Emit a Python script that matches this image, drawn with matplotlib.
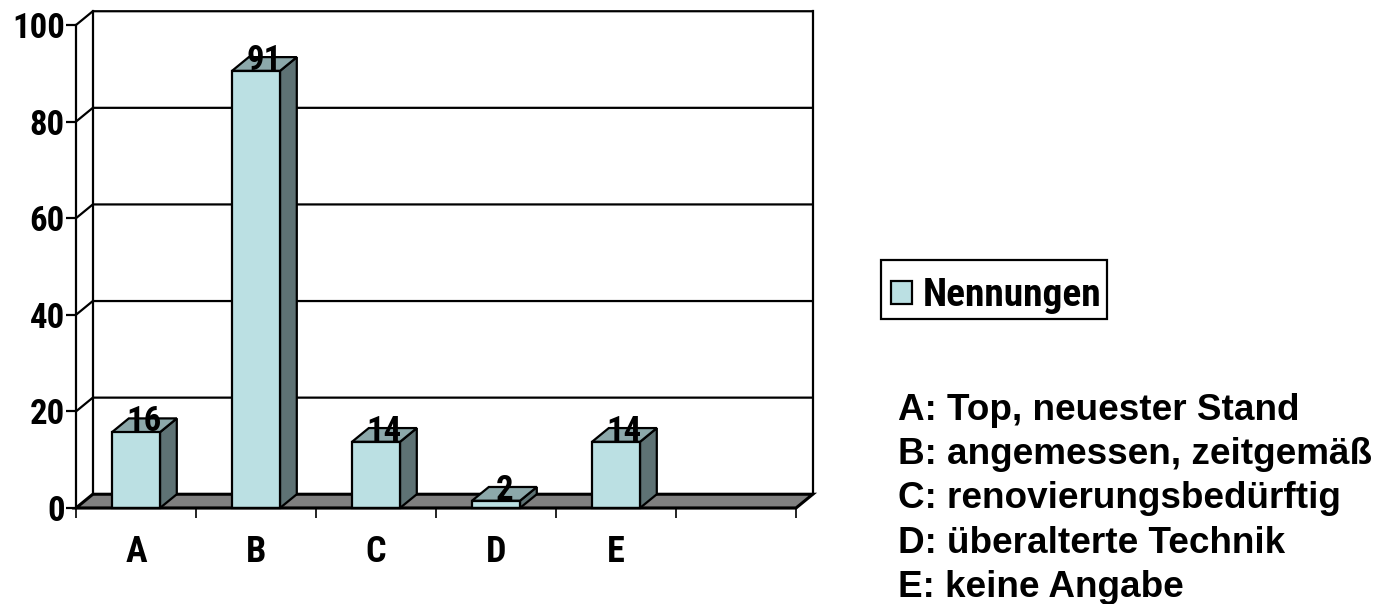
# plot.py - Nennungen bar chart with fake 3D look

import matplotlib
matplotlib.use("Agg")
import matplotlib.pyplot as plt
from matplotlib.patches import Rectangle

categories = ["A", "B", "C", "D", "E"]
bar_heights = [15.7, 90.5, 13.7, 1.5, 13.7]
bar_labels = ["16", "91", "14", "2", "14"]
y_ticks = [0, 20, 40, 60, 80, 100]
key_lines = [
    "A: Top, neuester Stand",
    "B: angemessen, zeitgemäß",
    "C: renovierungsbedürftig",
    "D: überalterte Technik",
    "E: keine Angabe",
]

FRONT = "#BBE0E3"
SIDE = "#5E7274"
TOP = "#8CA8AA"
FLOOR = "#808080"
W, H = 1385, 604
DX, DY = 0.14, 2.85  # depth of the fake 3D, data units
LW = 1.6
NARROW = ["Roboto Condensed", "Liberation Sans"]


def fig_box(x0, y0, x1, y1, color, zorder):
    # box given in picture pixels, top-left origin
    fig.add_artist(Rectangle((x0 / W, 1 - y1 / H), (x1 - x0) / W, (y1 - y0) / H, transform=fig.transFigure,
                             facecolor=color, edgecolor="black", lw=LW, zorder=zorder))


fig = plt.figure(figsize=(W / 100, H / 100), dpi=100)
ax = fig.add_axes([76 / W, 1 - 508 / H, 720 / W, 483 / H])
ax.set_xlim(0, 6)
ax.set_ylim(0, 100)

# floor and back wall
ax.fill([0, 6, 6 + DX, DX], [0, 0, DY, DY], facecolor=FLOOR, edgecolor="black", lw=2.2, zorder=1, clip_on=False)
for t in y_ticks[1:]:
    ax.plot([0, DX, 6 + DX], [t, t + DY, t + DY], color="black", lw=LW, zorder=1, clip_on=False)
ax.plot([DX, DX], [DY, 100 + DY], color="black", lw=LW, zorder=1, clip_on=False)
ax.plot([6 + DX, 6 + DX], [DY, 100 + DY], color="black", lw=LW, zorder=1, clip_on=False)

# bars
lefts = [i + 0.3 for i in range(len(categories))]
width = 0.4
ax.bar(lefts, bar_heights, width=width, align="edge", color=FRONT, edgecolor="black",
       lw=LW, zorder=3, clip_on=False)
for x, h, lab in zip(lefts, bar_heights, bar_labels):
    ax.fill([x + width, x + width + DX, x + width + DX, x + width], [0, DY, h + DY, h],
            facecolor=SIDE, edgecolor="black", lw=LW, zorder=2, clip_on=False)
    ax.fill([x, x + width, x + width + DX, x + DX], [h, h, h + DY, h + DY],
            facecolor=TOP, edgecolor="black", lw=LW, zorder=2, clip_on=False)
    ax.text(x + width / 2 + DX / 2, h + DY, lab, ha="center", va="center_baseline",
            family=NARROW, weight="bold", fontsize=25, zorder=4)

# axes
for side in ["top", "right"]:
    ax.spines[side].set_visible(False)
for side in ["left", "bottom"]:
    ax.spines[side].set_linewidth(LW)
    ax.spines[side].set_zorder(5)
ax.set_yticks(y_ticks)
ax.set_yticklabels([str(t) for t in y_ticks], family=NARROW, weight="bold", fontsize=25)
ax.tick_params(axis="y", length=7, width=LW, pad=1)
ax.set_xticks(range(7))
ax.set_xticklabels([])
ax.tick_params(axis="x", which="major", length=7, width=1.2)
ax.set_xticks([i + 0.5 for i in range(len(categories))], minor=True)
ax.set_xticklabels(categories, minor=True, family=NARROW, weight="bold", fontsize=26)
ax.tick_params(axis="x", which="minor", length=0, pad=19)

# legend box
fig_box(881, 260, 1107, 319, "white", 5)
fig_box(891, 281, 912, 304, FRONT, 6)
fig.text(923 / W, 1 - 306 / H, "Nennungen", ha="left", va="baseline", family=NARROW,
         weight="bold", fontsize=28.4, zorder=6)

# key text
for i, line in enumerate(key_lines):
    fig.text(898 / W, 1 - (420 + i * 44.2) / H, line, ha="left", va="baseline",
             family="Liberation Sans", weight="bold", fontsize=26.6)

fig.savefig("out.png", dpi=100)
